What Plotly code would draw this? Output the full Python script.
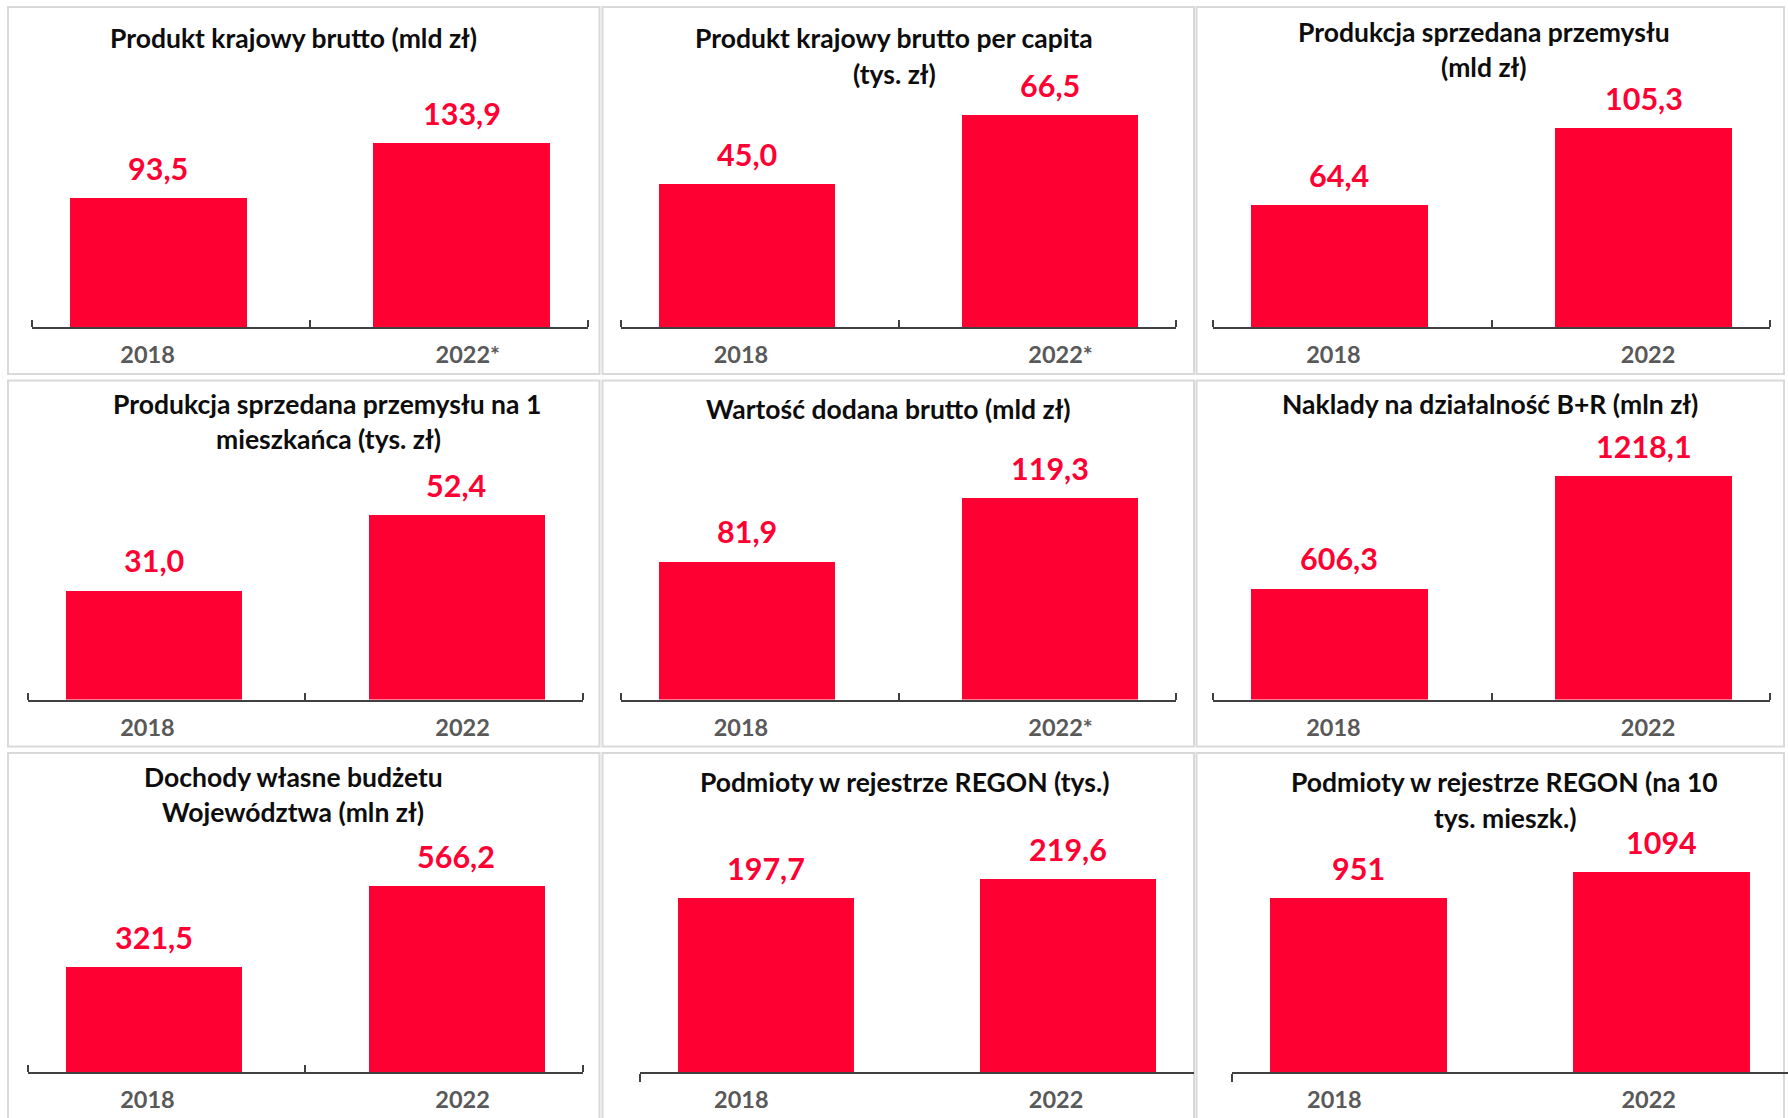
import plotly.graph_objects as go

W, H = 1788, 1118

# ---------------- data ----------------
titles = [
    "Produkt krajowy brutto (mld zł)",
    "Produkt krajowy brutto per capita<br>(tys. zł)",
    "Produkcja sprzedana przemysłu<br>(mld zł)",
    "Produkcja sprzedana przemysłu na 1<br>mieszkańca (tys. zł)",
    "Wartość dodana brutto (mld zł)",
    "Naklady na działalność B+R (mln zł)",
    "Dochody własne budżetu<br>Województwa (mln zł)",
    "Podmioty w rejestrze REGON (tys.)",
    "Podmioty w rejestrze REGON (na 10<br>tys. mieszk.)",
]
tick_labels = [
    ["2018", "2022*"], ["2018", "2022*"], ["2018", "2022"],
    ["2018", "2022"], ["2018", "2022*"], ["2018", "2022"],
    ["2018", "2022"], ["2018", "2022"], ["2018", "2022"],
]
values_2018 = [93.5, 45.0, 64.4, 31.0, 81.9, 606.3, 321.5, 197.7, 951]
values_2022 = [133.9, 66.5, 105.3, 52.4, 119.3, 1218.1, 566.2, 219.6, 1094]
decimals = [1, 1, 1, 1, 1, 1, 1, 1, 0]

# ---------------- styling / geometry (pixels) ----------------
RED = "#ff0033"
AXIS_COLOR = "#404040"
TICK_COLOR = "#595959"
BORDER = "#d9d9d9"
FONT = "Lato"

x_domains_px = [
    (32, 588), (621, 1176), (1213, 1770),
    (27.5, 582.5), (621, 1176), (1213, 1770),
    (27.5, 582.5), (640, 1194), (1232, 1788),
]
axis_y_px = [327, 327, 327, 699.5, 699.5, 699.5, 1072, 1072, 1072]
PLOT_H = 227
y_max = [165.1, 71.2, 120.0, 64.4, 134.3, 1237, 692.7, 257.7, 1239]

title_centers_px = [
    [(293, 37.5)],
    [(894, 37.5), (894, 73.5)],
    [(1484, 32), (1484, 67)],
    [(327, 404), (328, 439)],
    [(888, 409)],
    [(1490, 404)],
    [(293, 776.5), (293, 812)],
    [(905, 782)],
    [(1504, 782), (1505, 817.5)],
]

panel_cols_px = [(8, 599.5), (602.5, 1194), (1196.5, 1784)]
panel_rows_px = [(7, 374), (380.5, 746.5), (753, 1130)]

X_RANGE = [-0.416, 1.416]
BAR_W = 0.583
# category label anchors along each x axis (bars sit at 0 and 1)
label_pos = [
    [-0.035, 1.02], [-0.02, 1.035], [-0.02, 1.015],
    [-0.02, 1.02], [-0.02, 1.035], [-0.02, 1.015],
    [-0.02, 1.02], [-0.081, 0.96], [-0.079, 0.957],
]


def px_x(p):
    return p / W


def px_y(p):
    return 1 - p / H


def fmt(v, d):
    return f"{v:.{d}f}".replace(".", ",")


fig = go.Figure()
annotations = []
shapes = []
layout_axes = {}

for i in range(9):
    n = i + 1
    xa = "x" if n == 1 else f"x{n}"
    ya = "y" if n == 1 else f"y{n}"
    vals = [values_2018[i], values_2022[i]]

    fig.add_trace(go.Bar(
        x=[0, 1], y=vals, width=BAR_W,
        marker=dict(color=RED, line=dict(width=0)),
        xaxis=xa, yaxis=ya, showlegend=False, hoverinfo="skip",
    ))

    # value labels above bars
    for j, v in enumerate(vals):
        annotations.append(dict(
            x=j, y=v, xref=xa, yref=ya, text=fmt(v, decimals[i]),
            showarrow=False, yanchor="middle", yshift=30,
            font=dict(family=FONT, size=30.5, color=RED, weight=700),
        ))

    # titles
    for (cx, cy), line in zip(title_centers_px[i], titles[i].split("<br>")):
        annotations.append(dict(
            x=px_x(cx), y=px_y(cy), xref="paper", yref="paper",
            text=line, showarrow=False, xanchor="center", yanchor="middle",
            font=dict(family=FONT, size=26.5, color="#0d0d0d", weight=700),
        ))

    x0, x1 = x_domains_px[i]
    base = axis_y_px[i]
    bottom_row = i >= 7
    minor = dict(
        tickmode="array",
        tickvals=[X_RANGE[0]] if bottom_row else [X_RANGE[0], 0.5, X_RANGE[1]],
        ticks="outside" if bottom_row else "inside",
        ticklen=8 if bottom_row else 7,
        tickwidth=2, tickcolor=AXIS_COLOR, showgrid=False,
    )
    layout_axes["xaxis" if n == 1 else f"xaxis{n}"] = dict(
        domain=[px_x(x0), px_x(x1)], range=X_RANGE, anchor=ya,
        showline=True, linecolor=AXIS_COLOR, linewidth=2,
        tickmode="array", tickvals=label_pos[i], ticktext=tick_labels[i],
        ticks="", ticklabelstandoff=6,
        tickfont=dict(family=FONT, size=23.5, color=TICK_COLOR, weight=700),
        showgrid=False, zeroline=False, fixedrange=True, minor=minor,
    )
    layout_axes["yaxis" if n == 1 else f"yaxis{n}"] = dict(
        domain=[px_y(base), px_y(base - PLOT_H)], range=[0, y_max[i]],
        anchor=xa, visible=False, fixedrange=True,
    )

# panel frames
for (r0, r1) in panel_rows_px:
    for (c0, c1) in panel_cols_px:
        shapes.append(dict(
            type="rect", xref="paper", yref="paper",
            x0=px_x(c0), x1=px_x(c1), y0=px_y(r1), y1=px_y(r0),
            line=dict(color=BORDER, width=2), fillcolor="rgba(0,0,0,0)",
            layer="below",
        ))

fig.update_layout(
    width=W, height=H, autosize=False,
    margin=dict(l=0, r=0, t=0, b=0, pad=0),
    paper_bgcolor="white", plot_bgcolor="white",
    annotations=annotations, shapes=shapes,
    bargap=0, **layout_axes,
)

fig.write_html("out.html")
